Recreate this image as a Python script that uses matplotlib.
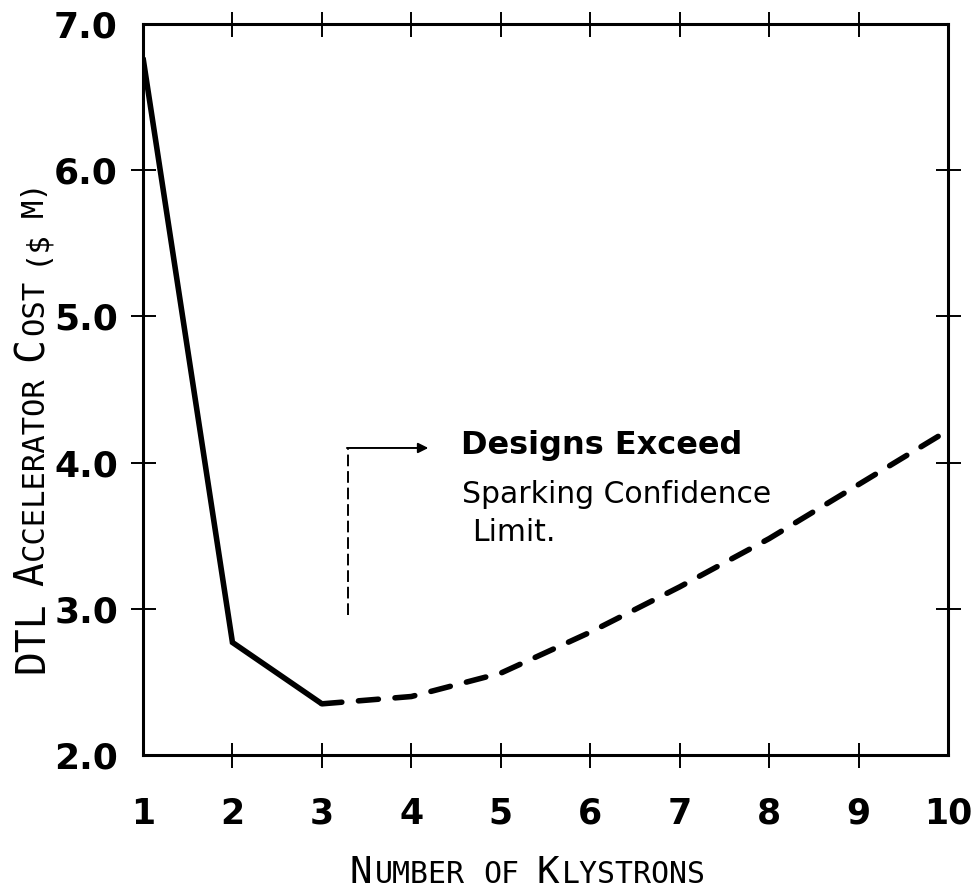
import matplotlib
matplotlib.use("Agg")
import matplotlib.pyplot as plt

# Data
klystrons_solid = [1, 2, 3]
cost_solid = [6.77, 2.77, 2.35]
klystrons_dashed = [3, 4, 5, 6, 7, 8, 9, 10]
cost_dashed = [2.35, 2.40, 2.56, 2.84, 3.15, 3.48, 3.85, 4.22]

x_ticks = list(range(1, 11))
y_ticks = [2.0, 3.0, 4.0, 5.0, 6.0, 7.0]

note_lines = ["Designs Exceed", "Sparking Confidence", "Limit."]

W, H = 972, 891
fig = plt.figure(figsize=(W / 100, H / 100), dpi=100)
ax = fig.add_axes([143 / W, 1 - 755 / H, (948 - 143) / W, (755 - 24) / H])

ax.plot(klystrons_solid, cost_solid, color="black", lw=4,
        solid_joinstyle="miter", solid_capstyle="butt")
ax.plot(klystrons_dashed, cost_dashed, color="black", lw=4,
        dashes=(3.6, 3.0), dash_capstyle="round")

ax.set_xlim(1, 10)
ax.set_ylim(2, 7)

for s in ax.spines.values():
    s.set_linewidth(2.2)

ax.set_xticks(x_ticks)
ax.set_xticklabels([str(v) for v in x_ticks])
ax.set_yticks(y_ticks)
ax.set_yticklabels([f"{v:.1f}" for v in y_ticks])
ax.tick_params(direction="inout", length=18, width=1.4, top=True, right=True)
ax.tick_params(axis="x", pad=21)
ax.tick_params(axis="y", pad=9)
for lab in ax.get_xticklabels():
    lab.set_fontsize(25)
    lab.set_fontweight("bold")
for lab in ax.get_yticklabels():
    lab.set_fontsize(26)
    lab.set_fontweight("bold")

# no tick marks at the corners
for ticks in (ax.xaxis.get_major_ticks(), ax.yaxis.get_major_ticks()):
    for t in (ticks[0], ticks[-1]):
        t.tick1line.set_visible(False)
        t.tick2line.set_visible(False)

# annotation: dashed marker and arrow
ax.plot([3.29, 3.29], [2.96, 4.10], color="black", lw=1.4, dashes=(6, 2.5))
ax.annotate("", xy=(4.19, 4.10), xytext=(3.28, 4.10),
            arrowprops=dict(arrowstyle="-|>", color="black", lw=1.4,
                            mutation_scale=15, shrinkA=0, shrinkB=0))
ax.text(4.55, 4.12, note_lines[0], fontsize=23, fontweight="bold",
        va="center", ha="left")
ax.text(4.57, 3.78, note_lines[1], fontsize=21.5, va="center", ha="left")
ax.text(4.68, 3.52, note_lines[2], fontsize=21.5, va="center", ha="left")


# small-caps style axis labels, built from pieces
def smallcaps(parts, x0, y0, vertical=False):
    prev = None
    for text, size, gap in parts:
        kw = dict(fontsize=size, family="DejaVu Sans Mono",
                  annotation_clip=False, textcoords="offset points")
        if vertical:
            kw.update(rotation=90, rotation_mode="anchor", ha="left",
                      va="baseline")
            if prev is None:
                a = ax.annotate(text, xy=(x0, y0), xycoords="figure pixels",
                                xytext=(0, 0), **kw)
            else:
                a = ax.annotate(text, xy=(x0, 1), xycoords=("figure pixels", prev),
                                xytext=(0, gap), **kw)
        else:
            kw.update(ha="left", va="baseline")
            if prev is None:
                a = ax.annotate(text, xy=(x0, y0), xycoords="figure pixels",
                                xytext=(0, 0), **kw)
            else:
                a = ax.annotate(text, xy=(1, y0), xycoords=(prev, "figure pixels"),
                                xytext=(gap, 0), **kw)
        prev = a


big, small = 27, 21.5
sp = 1.5
smallcaps([("N", big, 0), ("UMBER", small, sp), ("OF", small, 13),
           ("K", big, 13), ("LYSTRONS", small, sp)], 350, H - 883)

big_y, small_y = 28.5, 22
smallcaps([("DTL", big_y, 0), ("A", big_y, 11), ("CCELERATOR", small_y, sp),
           ("C", big_y, 11), ("OST", small_y, sp), ("($", small_y, 11),
           ("M)", small_y, 8)], 43, H - 673, vertical=True)

fig.savefig("out.png", dpi=100)
